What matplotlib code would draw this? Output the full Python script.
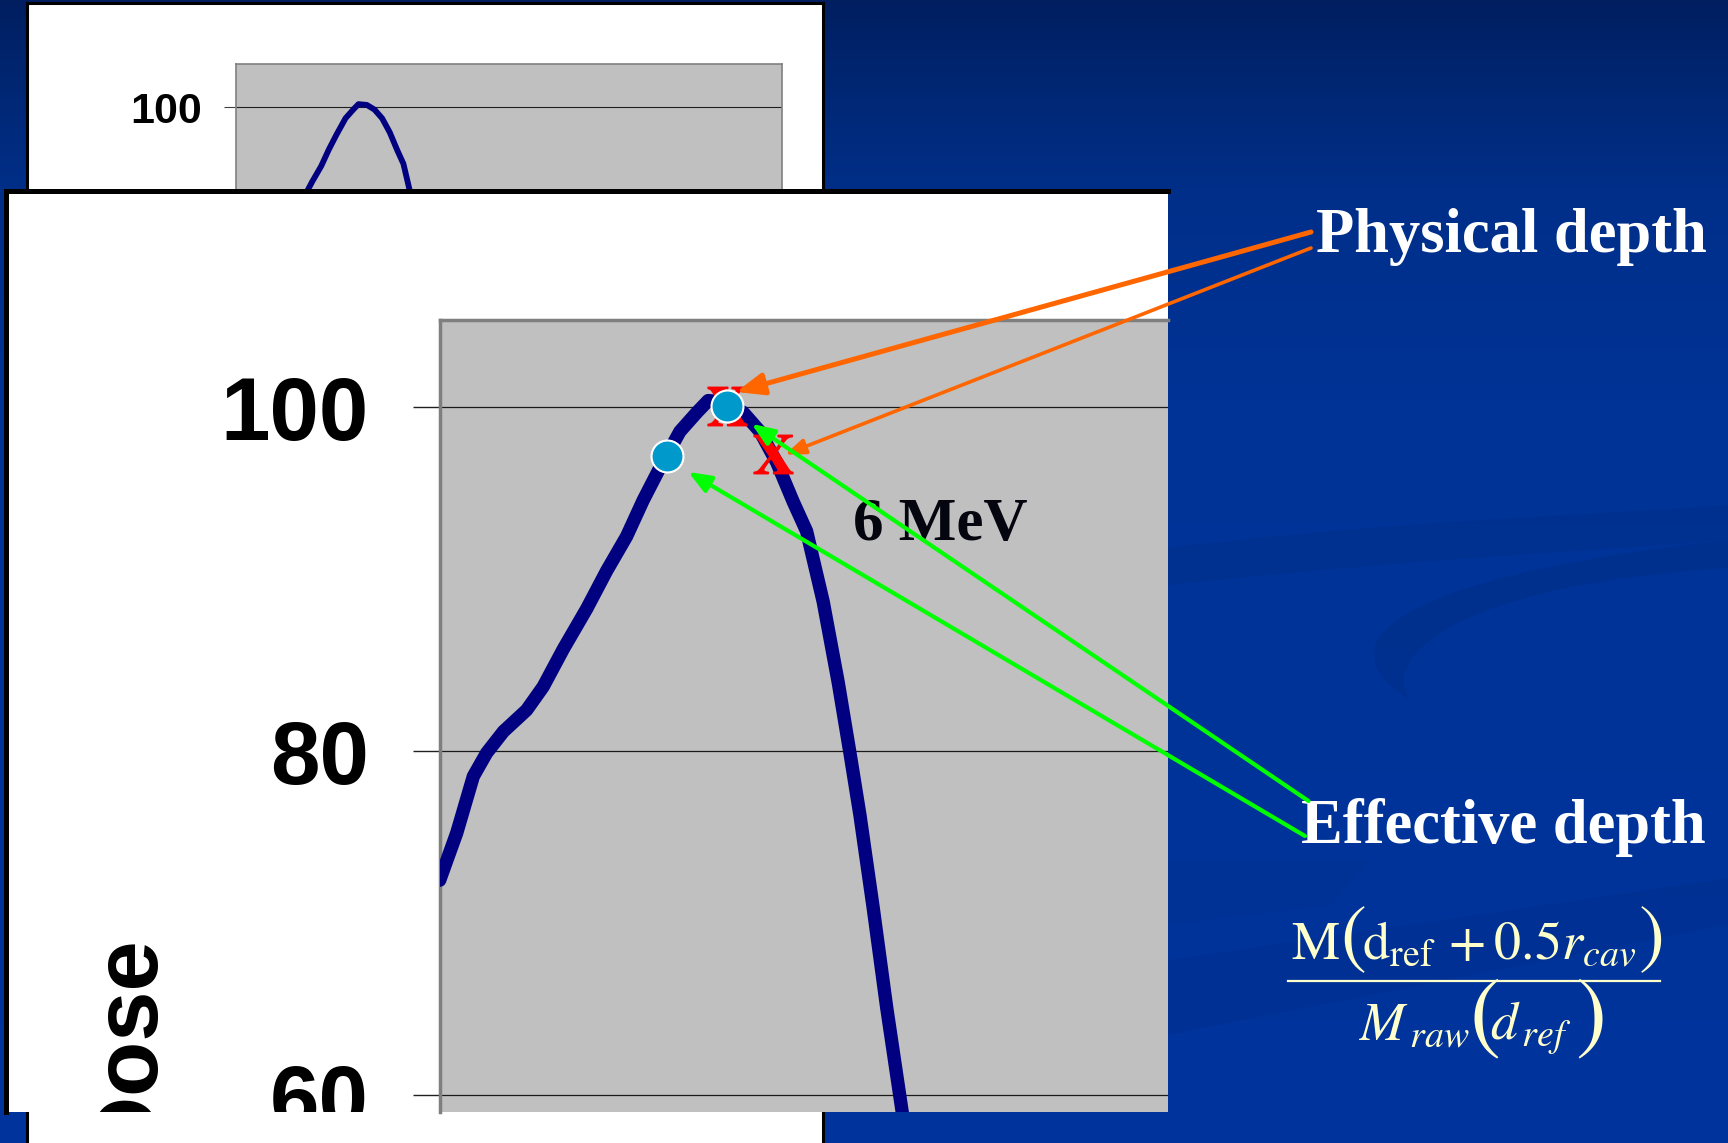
import numpy as np
import matplotlib
matplotlib.use("Agg")
import matplotlib.pyplot as plt
from matplotlib.path import Path
from matplotlib.patches import PathPatch, Polygon

# depth dose curve, 6 MeV electrons (depth in mm, dose in %)
depth_mm = [0.0, 0.77, 1.52, 2.12, 2.88, 3.93, 4.68, 5.59, 6.65, 7.55, 8.45, 9.2,
            9.96, 10.86, 11.62, 12.14, 12.97, 13.73, 14.48, 15.24, 15.99, 16.59,
            17.34, 18.02, 18.55, 19.0, 19.6, 20.21, 20.96]
dose_pct = [72.5, 75.25, 78.54, 79.9, 81.15, 82.4, 83.76, 85.95, 88.3, 90.5, 92.5, 94.6,
            96.5, 98.6, 99.7, 100.4, 100.3, 99.7, 98.6, 96.8, 94.5, 92.8,
            88.7, 84.0, 79.9, 76.3, 70.9, 65.1, 58.6]

# marked points
physical_mm = [12.97, 15.08]
physical_dose = [100.09, 97.3]
effective_mm = [10.26, 12.97]
effective_dose = [97.15, 100.09]

dose_ticks = [60, 80, 100]
beam_label = "6 MeV"

# arrow tips (data) for the labels
physical_tips = [(13.4, 100.9), (15.61, 97.26)]
effective_tips = [(14.1, 99.05), (11.24, 96.25)]

W, H = 1728, 1143
plt.rcParams["font.family"] = ["Liberation Sans", "DejaVu Sans"]
plt.rcParams["mathtext.fontset"] = "stix"


def frac(x0, y0, x1, y1):
    # pixel box (top-left origin) -> figure fraction
    return [x0 / W, 1 - y1 / H, (x1 - x0) / W, (y1 - y0) / H]


fig = plt.figure(figsize=(W / 100, H / 100), dpi=100)

# slide background
bg = fig.add_axes([0, 0, 1, 1], zorder=0)
yy = np.arange(H)
g = np.interp(yy, [0, 100, 200, 400, H], [30, 40, 47, 51, 52])
b = np.interp(yy, [0, 100, 200, 400, H], [96, 118, 138, 150, 156])
grad = np.zeros((H, 1, 3))
grad[:, 0, 1] = g / 255
grad[:, 0, 2] = b / 255
bg.imshow(grad, aspect="auto", extent=(0, W, H, 0))
dark = (0, 0.17, 0.5)
swirl = Path([(1168, 548), (1400, 520), (1600, 515), (1728, 505),
              (1728, 540), (1600, 550), (1400, 560), (1168, 585), (1168, 548)],
             [Path.MOVETO, Path.CURVE4, Path.CURVE4, Path.CURVE4,
              Path.LINETO, Path.CURVE4, Path.CURVE4, Path.CURVE4, Path.CLOSEPOLY])
bg.add_patch(PathPatch(swirl, fc=dark, ec="none", alpha=0.3))
crescent = Path([(1728, 540), (1450, 570), (1300, 630), (1410, 700),
                 (1380, 660), (1450, 585), (1728, 568), (1728, 540)],
                [Path.MOVETO, Path.CURVE4, Path.CURVE4, Path.CURVE4,
                 Path.CURVE4, Path.CURVE4, Path.CURVE4, Path.CLOSEPOLY])
bg.add_patch(PathPatch(crescent, fc=dark, ec="none", alpha=0.35))
bg.add_patch(Polygon([(1168, 960), (1728, 878), (1728, 925), (1168, 1035)],
                     closed=True, fc=dark, ec="none", alpha=0.25))
bg.add_patch(Polygon([(1168, 860), (1370, 860), (1330, 905), (1168, 925)],
                     closed=True, fc=dark, ec="none", alpha=0.2))
bg.set_xlim(0, W)
bg.set_ylim(H, 0)
bg.axis("off")

# back slide panel (small chart)
back_panel = fig.add_axes(frac(26.5, 2.8, 822.5, 1200), zorder=1)
back_panel.set_facecolor("white")
back_panel.set_xticks([])
back_panel.set_yticks([])
for s in ["top", "left", "right"]:
    back_panel.spines[s].set_color("black")
    back_panel.spines[s].set_linewidth(2.2)
back_panel.spines["bottom"].set_visible(False)

back = fig.add_axes(frac(235.8, 64.1, 782.4, 578.3), zorder=2)
back.set_facecolor("#c0c0c0")
back.plot(depth_mm, dose_pct, color="#000080", lw=4.2)
back.set_xlim(0, 54.1)
back.set_ylim(40, 105.5)
back.set_xticks([])
back.set_yticks(dose_ticks)
back.yaxis.grid(True, color="#202020", lw=0.8)
back.tick_params(axis="y", labelsize=31, length=8.6, pad=16, width=0.8, color="#404040")
for lbl in back.get_yticklabels():
    lbl.set_fontweight("bold")
for s in back.spines.values():
    s.set_color("#808080")
    s.set_linewidth(1.2)

# front panel (zoomed chart)
panel = fig.add_axes(frac(5.5, 190.5, 1168, 1112), zorder=3)
panel.set_facecolor("white")
panel.set_xticks([])
panel.set_yticks([])
for s in ["top", "left"]:
    panel.spines[s].set_color("black")
    panel.spines[s].set_linewidth(3.6)
panel.spines["right"].set_visible(False)
panel.spines["bottom"].set_visible(False)

ax = fig.add_axes(frac(439.7, 319.6, 1168, 1112), zorder=4)
ax.set_facecolor("#c0c0c0")
ax.plot(depth_mm, dose_pct, color="#000080", lw=9.6,
        solid_capstyle="round", solid_joinstyle="round", zorder=3)
ax.plot(physical_mm, physical_dose, ls="none", marker=r"$\mathbf{X}$", ms=28,
        color="#ff0000", zorder=4)
ax.plot(effective_mm, effective_dose, ls="none", marker="o", ms=23,
        mfc="#0099cc", mec="white", mew=1.5, zorder=5)
ax.set_xlim(0, 32.93)
ax.set_ylim(59.02, 105.11)
ax.set_xticks([])
ax.set_yticks(dose_ticks)
ax.yaxis.grid(True, color="#1a1a1a", lw=0.9)
ax.tick_params(axis="y", labelsize=64, length=19.4, pad=31.7, width=1, color="#202020")
for lbl in ax.get_yticklabels():
    lbl.set_fontweight("bold")
    lbl.set_clip_box(panel.bbox)
    lbl.set_clip_on(True)
for s in ["top", "left"]:
    ax.spines[s].set_color("#7f7f7f")
    ax.spines[s].set_linewidth(2.5)
ax.spines["right"].set_visible(False)
ax.spines["bottom"].set_visible(False)
ax.set_ylabel("Dose", fontsize=65, fontweight="bold")
ax.yaxis.set_label_coords(-0.395, 0.0846)
ax.yaxis.label.set_verticalalignment("baseline")
ax.yaxis.label.set_clip_box(panel.bbox)
ax.yaxis.label.set_clip_on(True)

# overlay: labels, arrows, formula
ov = fig.add_axes([0, 0, 1, 1], zorder=6)
ov.set_xlim(0, W)
ov.set_ylim(H, 0)
ov.axis("off")
ov.patch.set_alpha(0)

serif = ["Liberation Serif", "DejaVu Serif"]
ov.text(1316, 252, "Physical depth", color="white", fontsize=45, fontweight="bold",
        family=serif, ha="left", va="baseline")
ov.text(1301, 843, "Effective depth", color="white", fontsize=45, fontweight="bold",
        family=serif, ha="left", va="baseline")
ov.text(853, 540, beam_label, color="#05050f", fontsize=44, fontweight="bold",
        family=serif, ha="left", va="baseline")

ov.annotate("", xy=physical_tips[0], xycoords=ax.transData,
            xytext=(1311, 232), textcoords="data",
            arrowprops=dict(arrowstyle="-|>,head_length=0.83,head_width=0.33",
                            mutation_scale=20, lw=3.6, color="#ff6600",
                            shrinkA=0, shrinkB=0))
ov.annotate("", xy=physical_tips[1], xycoords=ax.transData,
            xytext=(1311, 248), textcoords="data",
            arrowprops=dict(arrowstyle="-|>,head_length=0.61,head_width=0.23",
                            mutation_scale=20, lw=2.6, color="#ff6600",
                            shrinkA=0, shrinkB=0))
for tip, start in zip(effective_tips, [(1308.5, 801), (1305, 836)]):
    ov.annotate("", xy=tip, xycoords=ax.transData, xytext=start, textcoords="data",
                arrowprops=dict(arrowstyle="-|>,head_length=0.68,head_width=0.27",
                                mutation_scale=20, lw=3.0, color="#00ff00",
                                shrinkA=0, shrinkB=0))

# formula M(d_ref + 0.5 r_cav) / M_raw(d_ref)
fc = "#ffffcc"
stix = "STIXGeneral"
ov.text(1291, 959, "M", color=fc, fontsize=39, family=stix, ha="left", va="baseline")
ov.text(1340, 959, "(", color=fc, fontsize=56, family=stix, ha="left", va="baseline")
ov.text(1362, 959, r"$\mathrm{d}_{\mathrm{ref}}\,+0.5r_{cav}$", color=fc, fontsize=39,
        ha="left", va="baseline")
ov.text(1639, 959, ")", color=fc, fontsize=56, family=stix, ha="left", va="baseline")
ov.plot([1288, 1660], [980.5, 980.5], color=fc, lw=1.6)
ov.text(1359, 1040, r"$M_{\,raw}$", color=fc, fontsize=39, ha="left", va="baseline")
ov.text(1469, 1041, "(", color=fc, fontsize=67, family=stix, ha="left", va="baseline")
ov.text(1490, 1040, r"$d_{\,ref}$", color=fc, fontsize=39, ha="left", va="baseline")
ov.text(1575, 1041, ")", color=fc, fontsize=67, family=stix, ha="left", va="baseline")

fig.savefig("out.png", dpi=100)
